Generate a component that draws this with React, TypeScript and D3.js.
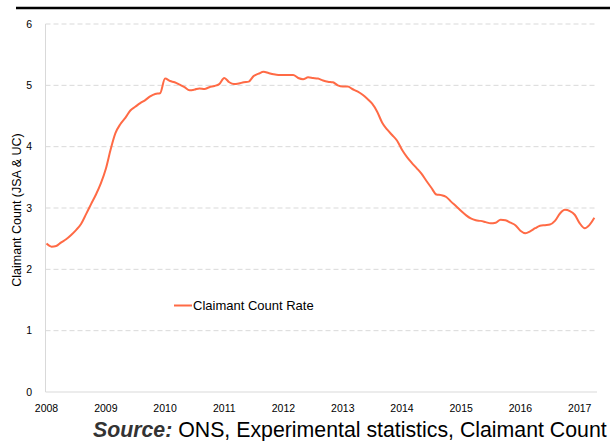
import * as d3 from "d3";

// Claimant count rate (%), monthly from Jan 2008 to Apr 2017
const startMonth = new Date(2008, 0, 1);
const rate2008 = [2.42, 2.37, 2.38, 2.44, 2.49, 2.56, 2.64, 2.74, 2.9, 3.06, 3.22, 3.4];
const rate2009 = [3.64, 3.97, 4.22, 4.37, 4.47, 4.59, 4.65, 4.71, 4.76, 4.82, 4.86, 4.87];
const rate2010 = [5.11, 5.07, 5.05, 5.01, 4.97, 4.92, 4.93, 4.95, 4.94, 4.97, 4.99, 5.02];
const rate2011 = [5.12, 5.05, 5.02, 5.03, 5.05, 5.06, 5.15, 5.19, 5.22, 5.2, 5.18, 5.17];
const rate2012 = [5.17, 5.17, 5.17, 5.12, 5.1, 5.13, 5.12, 5.11, 5.08, 5.06, 5.05, 5.0];
const rate2013 = [4.98, 4.98, 4.94, 4.9, 4.85, 4.78, 4.7, 4.57, 4.39, 4.28, 4.19, 4.1];
const rate2014 = [3.95, 3.83, 3.74, 3.65, 3.56, 3.44, 3.33, 3.22, 3.21, 3.18, 3.1, 3.03];
const rate2015 = [2.95, 2.88, 2.83, 2.8, 2.79, 2.77, 2.75, 2.76, 2.81, 2.8, 2.76, 2.72];
const rate2016 = [2.63, 2.59, 2.62, 2.67, 2.71, 2.72, 2.73, 2.79, 2.91, 2.97, 2.95, 2.89];
const rate2017 = [2.75, 2.67, 2.72, 2.84];

const yearLabels = ["2008", "2009", "2010", "2011", "2012", "2013", "2014", "2015", "2016", "2017"];
const yTicks = [0, 1, 2, 3, 4, 5, 6];

const seriesName = "Claimant Count Rate";
const yTitle = "Claimant Count (JSA & UC)";

const font = "'Liberation Sans', Arial, sans-serif";
const lineColor = "#FF6A45";
const gridColor = "#d9d9d9";

export default function App() {
  const width = 610;
  const height = 441;
  const left = 46.5;
  const right = 597;
  const top = 24;
  const bottom = 392;

  const values = [
    ...rate2008, ...rate2009, ...rate2010, ...rate2011, ...rate2012,
    ...rate2013, ...rate2014, ...rate2015, ...rate2016, ...rate2017,
  ];
  const data = values.map((v, i) => ({ date: d3.timeMonth.offset(startMonth, i), value: v }));

  const x = d3
    .scaleTime()
    .domain([new Date(2008, 0, 1), new Date(2017, 0, 1)])
    .range([left, 579.75]);
  const y = d3.scaleLinear().domain([0, 6]).range([bottom, top]);

  const line = d3
    .line<{ date: Date; value: number }>()
    .x((d) => x(d.date))
    .y((d) => y(d.value))
    .curve(d3.curveMonotoneX);

  return (
    <svg
      width={width}
      height={height}
      style={{ position: "absolute", left: 0, top: 0, background: "#fff" }}
      fontFamily={font}
    >
      {/* top rule */}
      <line x1={16} x2={610} y1={8} y2={8} stroke="#000" strokeWidth={2.5} />

      {/* gridlines */}
      {yTicks.slice(1).map((t) => (
        <line
          key={t}
          x1={left - 1}
          x2={right}
          y1={y(t)}
          y2={y(t)}
          stroke={gridColor}
          strokeWidth={1}
          strokeDasharray="5,3"
        />
      ))}

      {/* axes */}
      <line x1={left - 1} x2={left - 1} y1={top} y2={bottom} stroke={gridColor} strokeWidth={1} />
      <line x1={left - 1} x2={right} y1={bottom} y2={bottom} stroke={gridColor} strokeWidth={1} />

      {/* y tick labels */}
      {yTicks.map((t) => (
        <text key={t} x={32} y={y(t)} dy="0.35em" textAnchor="end" fontSize={10.5} fill="#000">
          {t}
        </text>
      ))}

      {/* x tick labels */}
      {yearLabels.map((lab) => (
        <text
          key={lab}
          x={x(new Date(+lab, 0, 1))}
          y={412}
          textAnchor="middle"
          fontSize={10.5}
          fill="#000"
        >
          {lab}
        </text>
      ))}

      {/* y title */}
      <text
        transform={`translate(17,${(top + bottom) / 2 + 2}) rotate(-90)`}
        textAnchor="middle"
        dy="0.35em"
        fontSize={12.5}
        fill="#000"
      >
        {yTitle}
      </text>

      {/* series */}
      <path d={line(data) ?? ""} fill="none" stroke={lineColor} strokeWidth={2} strokeLinejoin="round" />

      {/* legend */}
      <line x1={174} x2={192} y1={305.5} y2={305.5} stroke={lineColor} strokeWidth={2} />
      <text x={193} y={305.5} dy="0.35em" fontSize={13} fill="#000">
        {seriesName}
      </text>

      {/* source */}
      <text x={93} y={437} fontSize={21.3} fill="#000">
        <tspan fontWeight="bold" fontStyle="italic" fill="#333">Source:</tspan>
        <tspan> ONS, Experimental statistics, Claimant Count</tspan>
      </text>
    </svg>
  );
}
